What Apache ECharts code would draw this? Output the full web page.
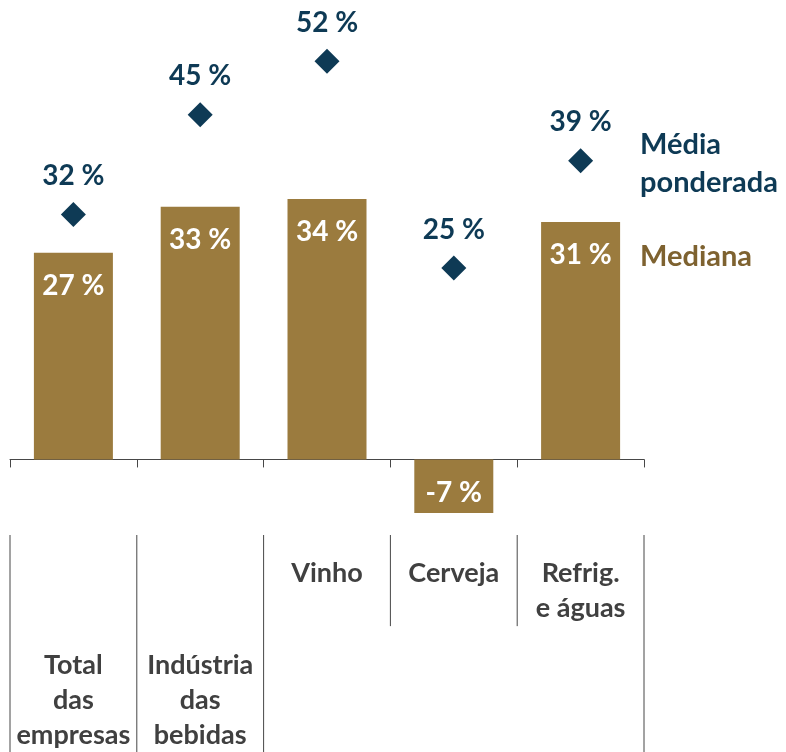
<!DOCTYPE html>
<html lang="pt">
<head>
    <meta charset="UTF-8">
    <title>Mediana e média ponderada</title>
    <script src="https://cdn.jsdelivr.net/npm/echarts@6/dist/echarts.min.js"></script>
    <style>
        html, body { margin: 0; padding: 0; background: #fff; }
    </style>
</head>
<body>
<div id="chart" style="width: 786px;height:752px;"></div>
</body>

<script type="text/javascript">
    // categorias (as duas primeiras são totais, ficam mais abaixo)
    var categorias = ['Total\ndas\nempresas', 'Indústria\ndas\nbebidas', 'Vinho', 'Cerveja', 'Refrig.\ne águas'];
    var nivel = [0, 0, 1, 1, 1];
    var mediana = [27, 33, 34, -7, 31];
    var mediaPonderada = [32, 45, 52, 25, 39];
    // separadores por baixo do eixo: posição e profundidade relativa
    var sepPos = [0, 1, 2, 3, 4, 5];
    var sepFundo = [1, 1, 1, 0.42, 0.42, 1];

    var ouro = '#9B7B3E';
    var azul = '#0E3A55';
    var cinza = '#404040';
    var traco = '#474747';
    var fonte = 'Lato';

    var chart = echarts.init(document.getElementById('chart'));

    chart.setOption({
        animation: false,
        textStyle: { fontFamily: fonte },
        grid: [
            { left: 10, right: 142, top: 0, bottom: 216, outerBoundsMode: 'none', containLabel: false },
            { left: 10, right: 142, top: 535, bottom: 0, outerBoundsMode: 'none', containLabel: false }
        ],
        legend: [
            {
                data: ['Média ponderada'],
                left: 635, top: 126, padding: 0,
                icon: 'none', itemWidth: 0,
                selectedMode: false,
                formatter: function () { return 'Média\nponderada'; },
                textStyle: { color: azul, fontSize: 29, fontWeight: 'bold', fontFamily: fonte, lineHeight: 38 }
            },
            {
                data: ['Mediana'],
                left: 635, top: 238, padding: 0,
                icon: 'none', itemWidth: 0,
                selectedMode: false,
                textStyle: { color: '#7E6230', fontSize: 29, fontWeight: 'bold', fontFamily: fonte, lineHeight: 38 }
            }
        ],
        xAxis: [
            {
                type: 'category',
                gridIndex: 0,
                data: categorias,
                axisLine: { show: true, onZero: true, lineStyle: { color: traco, width: 1 } },
                axisTick: { show: true, length: 8, interval: 0, lineStyle: { color: traco } },
                axisLabel: {
                    interval: 0,
                    margin: 20,
                    formatter: function (v, i) {
                        var linhas = v.split('\n').map(function (s) { return '{t|' + s + '}'; });
                        if (nivel[i] === 0) linhas.unshift('{gap| }');
                        return linhas.join('\n');
                    },
                    rich: {
                        t: { fontSize: 27, fontWeight: 'bold', color: cinza, fontFamily: fonte, lineHeight: 35 },
                        gap: { fontSize: 10, lineHeight: 92 }
                    }
                }
            },
            { type: 'value', gridIndex: 1, min: 0, max: 5, show: false }
        ],
        yAxis: [
            { type: 'value', gridIndex: 0, min: -10, max: 60, show: false },
            { type: 'value', gridIndex: 1, min: 0, max: 1, inverse: true, show: false }
        ],
        series: [
            {
                name: 'Mediana',
                type: 'bar',
                barWidth: 79,
                itemStyle: { color: ouro },
                data: mediana.map(function (v) {
                    return v < 0
                        ? { value: v, label: { position: 'inside', offset: [0, 7] } }
                        : v;
                }),
                label: {
                    show: true,
                    position: 'insideTop',
                    distance: 19,
                    color: '#fff',
                    fontSize: 28,
                    fontWeight: 'bold',
                    fontFamily: fonte,
                    formatter: '{c} %'
                }
            },
            {
                name: 'Média ponderada',
                type: 'scatter',
                symbol: 'diamond',
                symbolSize: 25,
                itemStyle: { color: azul, opacity: 1 },
                data: mediaPonderada,
                label: {
                    show: true,
                    position: 'top',
                    distance: 12,
                    color: azul,
                    fontSize: 28,
                    fontWeight: 'bold',
                    fontFamily: fonte,
                    formatter: '{c} %'
                }
            },
            {
                type: 'custom',
                xAxisIndex: 1,
                yAxisIndex: 1,
                silent: true,
                data: sepPos.map(function (p, i) { return [p, sepFundo[i]]; }),
                renderItem: function (params, api) {
                    var a = api.coord([api.value(0), 0]);
                    var b = api.coord([api.value(0), api.value(1)]);
                    return {
                        type: 'line',
                        shape: { x1: a[0], y1: a[1], x2: b[0], y2: b[1] },
                        style: { stroke: traco, lineWidth: 1 }
                    };
                }
            }
        ]
    });
</script>
</html>
